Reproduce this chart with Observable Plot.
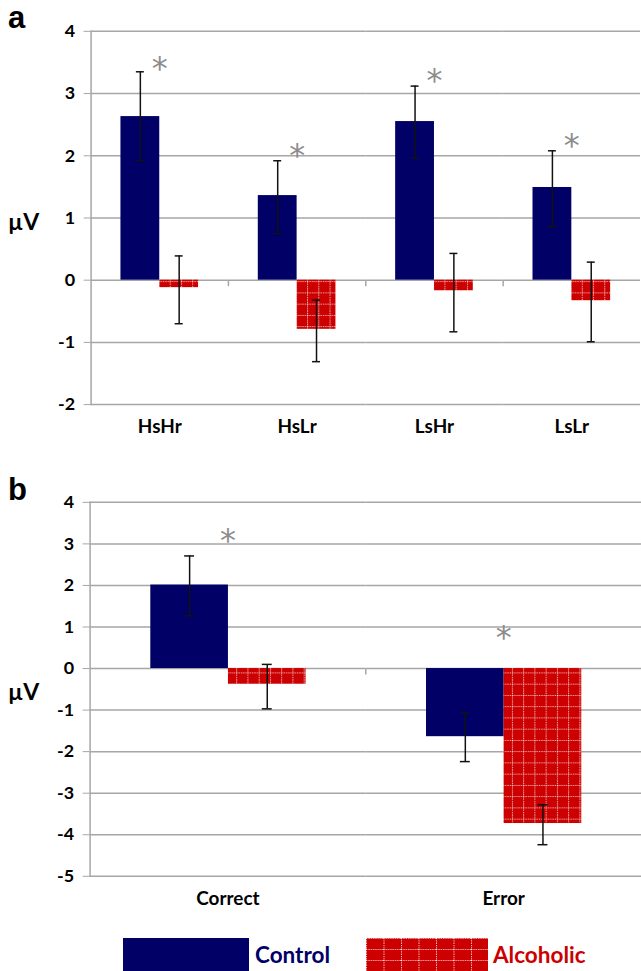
<!DOCTYPE html>
<html><head><meta charset="utf-8">
<script src="https://cdn.jsdelivr.net/npm/d3@7"></script>
<script src="https://cdn.jsdelivr.net/npm/@observablehq/plot@0.6"></script>
<style>
html,body{margin:0;padding:0;background:#fff;overflow:hidden;}
#root{position:relative;width:641px;height:971px;overflow:hidden;}
#root svg.panel{position:absolute;left:0;}
#overlay{position:absolute;left:0;top:0;pointer-events:none;}
</style></head><body><div id="root"></div>
<script>
// ---------- data ----------
const series = ["Control", "Alcoholic"];

const catsA = ["HsHr", "HsLr", "LsHr", "LsLr"];
const controlA = [2.63, 1.36, 2.55, 1.49];
const controlLoA = [1.92, 0.75, 1.96, 0.86];
const controlHiA = [3.35, 1.92, 3.12, 2.08];
const alcoholicA = [-0.12, -0.79, -0.17, -0.33];
const alcoholicLoA = [-0.70, -1.31, -0.83, -0.99];
const alcoholicHiA = [0.39, -0.32, 0.43, 0.29];
const starsA = [3.56, 2.16, 3.36, 2.32];
const yTicksA = [4, 3, 2, 1, 0, -1, -2];

const catsB = ["Correct", "Error"];
const controlB = [2.01, -1.64];
const controlLoB = [1.27, -2.24];
const controlHiB = [2.71, -1.07];
const alcoholicB = [-0.38, -3.73];
const alcoholicLoB = [-0.97, -4.24];
const alcoholicHiB = [0.10, -3.28];
const starsB = [3.32, 0.97];
const yTicksB = [4, 3, 2, 1, 0, -1, -2, -3, -4, -5];

// ---------- styles ----------
const NAVY = "#000066";
const RED = "#cc0000";
const GRAY = "#a6a6a6";
const FONT = "Lato, 'Open Sans', sans-serif";

const root = document.getElementById("root");

function addPattern(svg, id, size) {
  const defs = d3.select(svg).insert("defs", ":first-child");
  const p = defs.append("pattern").attr("id", id).attr("patternUnits", "userSpaceOnUse")
    .attr("width", size).attr("height", size);
  p.append("rect").attr("width", size).attr("height", size).attr("fill", RED);
  p.append("line").attr("x1", 0).attr("x2", size).attr("y1", 0.5).attr("y2", 0.5)
    .attr("stroke", "#fff").attr("stroke-opacity", 0.75).attr("stroke-width", 1).attr("stroke-dasharray", "1.3 1");
  p.append("line").attr("x1", 0.5).attr("x2", 0.5).attr("y1", 0).attr("y2", size)
    .attr("stroke", "#fff").attr("stroke-opacity", 0.75).attr("stroke-width", 1).attr("stroke-dasharray", "1.3 1");
}

const tickDown = {draw(ctx) { ctx.moveTo(0, 0); ctx.lineTo(0, 6); }};

function panel(cfg) {
  const rows = cfg.cats.flatMap((c, i) => [
    {cat: c, series: "Control", value: cfg.ctl[i], lo: cfg.ctlLo[i], hi: cfg.ctlHi[i]},
    {cat: c, series: "Alcoholic", value: cfg.alc[i], lo: cfg.alcLo[i], hi: cfg.alcHi[i]}
  ]);
  const starRows = cfg.cats.map((c, i) => ({cat: c, y: cfg.stars[i]}));
  const svg = Plot.plot({
    width: 644, height: cfg.height,
    marginTop: cfg.marginTop, marginBottom: cfg.marginBottom, marginLeft: 90, marginRight: 0,
    style: {fontFamily: FONT, background: "transparent", overflow: "visible"},
    fx: {domain: cfg.cats, paddingInner: 0, paddingOuter: 0, label: null, axis: null},
    x: {domain: series, paddingInner: 0, paddingOuter: 0.755, axis: null},
    y: {domain: cfg.yDomain, axis: null},
    color: {domain: series, range: [NAVY, `url(#${cfg.patternId})`]},
    marks: [
      Plot.gridY(cfg.yTicks, {stroke: GRAY, strokeOpacity: 1, strokeWidth: 1.5}),
      Plot.barY(rows, {fx: "cat", x: "series", y: "value", fill: "series"}),
      Plot.ruleX(rows, {fx: "cat", x: "series", y1: "lo", y2: "hi", stroke: "#111", strokeWidth: 1.5}),
      Plot.tickY(rows, {fx: "cat", x: "series", y: "lo", inset: cfg.capInset, stroke: "#111", strokeWidth: 1.5}),
      Plot.tickY(rows, {fx: "cat", x: "series", y: "hi", inset: cfg.capInset, stroke: "#111", strokeWidth: 1.5}),
      Plot.text(starRows, {fx: "cat", y: "y", text: () => "*", fontSize: 32, fill: "#8c8c8c", fontFamily: "'DejaVu Sans', sans-serif", dy: 10}),
      Plot.dot(cfg.cats.slice(1), {fx: d => d, y: () => 0, frameAnchor: "left", symbol: tickDown, stroke: GRAY, strokeWidth: 1.5, r: 3}),
      Plot.frame({anchor: "left", facetAnchor: "left", stroke: GRAY, strokeWidth: 1.5}),
      Plot.axisY(cfg.yTicks, {anchor: "left", tickSize: 7, tickPadding: 9, stroke: GRAY, fill: "#000", fontSize: 18, fontWeight: "bold", label: null, tickFormat: d => String(d)}),
      Plot.axisFx({anchor: "bottom", tickSize: 0, tickPadding: 15, fontSize: 19, fontWeight: "bold", fill: "#000", label: null})
    ]
  });
  svg.classList.add("panel");
  svg.style.top = cfg.top + "px";
  addPattern(svg, cfg.patternId, 11.3);
  root.appendChild(svg);
}

panel({cats: catsA, ctl: controlA, ctlLo: controlLoA, ctlHi: controlHiA,
  alc: alcoholicA, alcLo: alcoholicLoA, alcHi: alcoholicHiA, stars: starsA,
  yTicks: yTicksA, yDomain: [-2, 4], top: 0, height: 450, marginTop: 31, marginBottom: 44,
  patternId: "patA", capInset: 15.5});

panel({cats: catsB, ctl: controlB, ctlLo: controlLoB, ctlHi: controlHiB,
  alc: alcoholicB, alcLo: alcoholicLoB, alcHi: alcoholicHiB, stars: starsB,
  yTicks: yTicksB, yDomain: [-5, 4], top: 470, height: 440, marginTop: 32, marginBottom: 32.3,
  patternId: "patB", capInset: 34});

// ---------- overlay texts & legend ----------
const ov = d3.select(root).append("svg").attr("id", "overlay").attr("width", 641).attr("height", 971);
const lg = ov.append("defs").append("pattern").attr("id", "patL").attr("patternUnits", "userSpaceOnUse")
  .attr("width", 17.5).attr("height", 11).attr("x", 366).attr("y", 938);
lg.append("rect").attr("width", 17.5).attr("height", 11).attr("fill", RED);
lg.append("line").attr("x1", 0.5).attr("x2", 0.5).attr("y1", 0).attr("y2", 11).attr("stroke", "#fff").attr("stroke-opacity", 0.75).attr("stroke-dasharray", "1.3 1");
lg.append("line").attr("x1", 0).attr("x2", 17.5).attr("y1", 0.5).attr("y2", 0.5).attr("stroke", "#fff").attr("stroke-opacity", 0.75).attr("stroke-dasharray", "1.3 1");

const panelLabels = [{t: "a", x: 8, y: 28}, {t: "b", x: 8, y: 500}];
ov.selectAll("text.pl").data(panelLabels).join("text").attr("class", "pl")
  .attr("x", d => d.x).attr("y", d => d.y).text(d => d.t)
  .attr("font-family", "'Liberation Sans', Arial, sans-serif").attr("font-weight", "bold").attr("font-size", 31);

const unitLabels = [{x: 8, y: 230}, {x: 8, y: 700}];
ov.selectAll("text.ul").data(unitLabels).join("text").attr("class", "ul")
  .attr("x", d => d.x).attr("y", d => d.y).text("µV")
  .attr("font-family", FONT).attr("font-weight", "bold").attr("font-size", 23);

const legend = [
  {name: "Control", fill: NAVY, color: NAVY, sx: 123, sw: 126, tx: 255},
  {name: "Alcoholic", fill: "url(#patL)", color: RED, sx: 366, sw: 122, tx: 493}
];
ov.selectAll("rect.lg").data(legend).join("rect").attr("class", "lg")
  .attr("x", d => d.sx).attr("y", 938).attr("width", d => d.sw).attr("height", 40).attr("fill", d => d.fill);
ov.selectAll("text.lg").data(legend).join("text").attr("class", "lg")
  .attr("x", d => d.tx).attr("y", 963).text(d => d.name)
  .attr("fill", d => d.color).attr("font-family", FONT).attr("font-weight", "bold").attr("font-size", 22.5);
</script>
</body></html>
